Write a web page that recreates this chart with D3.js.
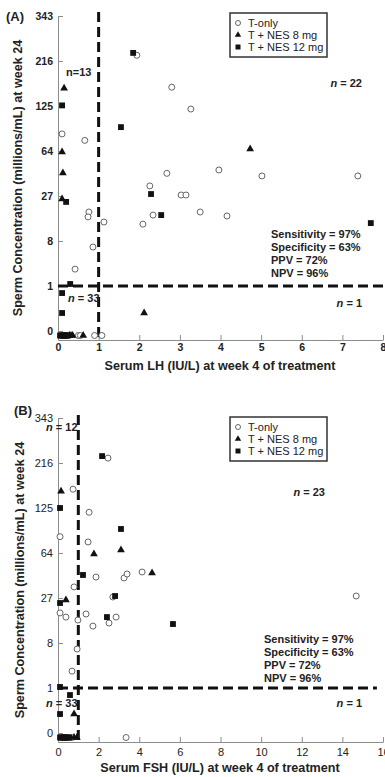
<!DOCTYPE html>
<html>
<head>
<meta charset="utf-8">
<script src="https://cdn.jsdelivr.net/npm/d3@7"></script>
<style>
  body { margin: 0; background: #fff; }
  svg { font-family: "Liberation Sans", Arial, sans-serif; }
  .axis path, .axis line { stroke: #8c8c8c; }
  .axis-title { font-weight: bold; font-size: 12.6px; fill: #222; }
  .note { font-weight: bold; font-size: 11px; fill: #222; }
</style>
</head>
<body>
<svg id="chart" width="385" height="777"></svg>
<script>
// below detection limit (plotted just under the 0 tick)
const ND = -0.001;

const yTicks = [0, 1, 8, 27, 64, 125, 216, 343];
const lhTicks = [0, 1, 2, 3, 4, 5, 6, 7, 8];
const fshTicks = [0, 2, 4, 6, 8, 10, 12, 14, 16];
const groups = ['T-only', 'T + NES 8 mg', 'T + NES 12 mg'];
const stats = ['Sensitivity = 97%', 'Specificity = 63%', 'PPV = 72%', 'NPV = 96%'];

// Panel A: serum LH (IU/L) vs sperm concentration (millions/mL)
const lhTonly = [
  [1.94, 230], [2.8, 159], [3.27, 120], [0.1, 84], [0.66, 76], [2.68, 43],
  [2.26, 33.5], [3.03, 27.6], [3.15, 27.6], [0.76, 18.5], [0.74, 16.3],
  [2.34, 17.1], [3.5, 18.5], [1.13, 14.2], [2.09, 13.4], [0.86, 6.5],
  [0.42, 2.6], [3.96, 45.8], [5.02, 40.9], [7.38, 40.9], [4.16, 16.7],
  [0.5, ND], [0.55, ND], [0.9, ND], [1.08, ND]
];
const lh8 = [
  [0.15, 157], [0.1, 62.9], [0.12, 43.3], [0.1, 25.2], [4.73, 66.2], [2.12, 0.064],
  [0.28, ND], [0.32, ND], [0.36, ND], [0.62, ND]
];
const lh12 = [
  [1.85, 236], [0.1, 126], [1.55, 93], [2.29, 28.2], [0.2, 23.6], [2.54, 17.1],
  [0.3, 1.14], [0.1, 0.6], [0.1, 0.064], [7.7, 13.8],
  [0.05, ND], [0.08, ND], [0.1, ND], [0.12, ND], [0.14, ND], [0.16, ND],
  [0.18, ND], [0.2, ND], [0.22, ND], [0.25, ND]
];

// Panel B: serum FSH (IU/L) vs sperm concentration (millions/mL)
const fshTonly = [
  [2.46, 228], [0.74, 159], [1.53, 118], [0.1, 83], [1.48, 76.5], [1.87, 41.6],
  [3.25, 40.9], [3.4, 44.1], [4.14, 45.8], [0.79, 34.2], [2.7, 27.6], [0.1, 19],
  [0.39, 17.1], [1.38, 18.5], [0.98, 15.8], [2.86, 17.1], [2.51, 14.6],
  [1.72, 13.4], [0.94, 6.5], [0.69, 2.6], [14.68, 28.2], [3.35, ND], [0.7, ND]
];
const fsh8 = [
  [0.15, 155], [1.77, 62.9], [3.1, 67.2], [4.63, 44.9], [0.39, 25.8], [0.79, 0.075],
  [0.79, ND], [0.93, ND]
];
const fsh12 = [
  [2.17, 233], [0.1, 125], [3.1, 93.2], [1.23, 43.3], [2.81, 28.2], [0.1, 24.1],
  [2.41, 17.1], [5.66, 14.2], [0.1, 1.07], [0.59, 0.6], [0.1, 0.075],
  [0.1, ND], [0.15, ND], [0.2, ND], [0.25, ND], [0.3, ND], [0.35, ND],
  [0.4, ND], [0.45, ND], [0.5, ND], [0.55, ND]
];

const svg = d3.select('#chart');

function drawPanel(cfg) {
  const x = d3.scaleLinear().domain(cfg.xDomain).range([58, 383]);
  const y = d3.scalePow().exponent(1 / 3).domain([-0.008, 343]).range([cfg.bottom, cfg.bottom - 324]);
  const g = svg.append('g');

  const xAxis = d3.axisBottom(x).tickValues(cfg.xTicks).tickSize(-5).tickSizeOuter(0).tickPadding(cfg.xPad);
  const yAxis = d3.axisLeft(y).tickValues(yTicks).tickSize(-5).tickSizeOuter(0).tickPadding(5);

  const xg = g.append('g').attr('class', 'axis')
      .attr('transform', `translate(0,${cfg.bottom})`).call(xAxis);
  const yg = g.append('g').attr('class', 'axis')
      .attr('transform', 'translate(58,0)').call(yAxis);
  [xg, yg].forEach(a => a.selectAll('text')
      .style('font-size', cfg.tickSize)
      .style('font-weight', cfg.tickWeight)
      .attr('fill', '#222'));

  // cut-off lines at 1 IU/L and 1 million/mL
  g.append('line')
      .attr('x1', x(1)).attr('x2', x(1))
      .attr('y1', y(cfg.vTop)).attr('y2', cfg.bottom)
      .attr('stroke', '#111').attr('stroke-width', 3).attr('stroke-dasharray', '10,5');
  g.append('line')
      .attr('x1', x(0)).attr('x2', x(cfg.hEnd))
      .attr('y1', y(1)).attr('y2', y(1))
      .attr('stroke', '#111').attr('stroke-width', 3).attr('stroke-dasharray', '10,5');

  // points
  g.selectAll('.tonly').data(cfg.tonly).join('circle')
      .attr('class', 'tonly')
      .attr('cx', d => x(d[0])).attr('cy', d => y(d[1])).attr('r', 3)
      .attr('fill', '#fff').attr('stroke', '#666').attr('stroke-width', 1);
  g.selectAll('.nes8').data(cfg.nes8).join('path')
      .attr('class', 'nes8')
      .attr('d', d3.symbol(d3.symbolTriangle, 26))
      .attr('transform', d => `translate(${x(d[0])},${y(d[1])})`)
      .attr('fill', '#111');
  g.selectAll('.nes12').data(cfg.nes12).join('path')
      .attr('class', 'nes12')
      .attr('d', d3.symbol(d3.symbolSquare, 34))
      .attr('transform', d => `translate(${x(d[0])},${y(d[1])})`)
      .attr('fill', '#111');

  // titles
  g.append('text').attr('class', 'axis-title')
      .attr('x', 220).attr('y', cfg.bottom + 30)
      .attr('text-anchor', 'middle').text(cfg.xTitle);
  g.append('text').attr('class', 'axis-title')
      .attr('transform', `translate(${cfg.yTitleX},${cfg.bottom - 162}) rotate(-90)`)
      .attr('text-anchor', 'middle').text('Sperm Concentration (millions/mL) at week 24');
  g.append('text')
      .attr('x', cfg.labelPos[0]).attr('y', cfg.labelPos[1])
      .style('font-weight', 'bold').style('font-size', '13px').attr('fill', '#222')
      .text(cfg.label);

  // legend
  const lg = g.append('g').attr('transform', `translate(230,${cfg.legendTop})`);
  lg.append('rect').attr('width', 97).attr('height', 44)
      .attr('fill', '#fff').attr('stroke', '#333').attr('stroke-width', 1.5);
  groups.forEach((name, i) => {
    const row = lg.append('g').attr('transform', `translate(8,${10 + i * 12})`);
    if (i === 0) row.append('circle').attr('r', 2.5).attr('fill', '#fff').attr('stroke', '#666');
    else row.append('path')
        .attr('d', d3.symbol(i === 1 ? d3.symbolTriangle : d3.symbolSquare, i === 1 ? 18 : 25))
        .attr('fill', '#111');
    row.append('text').attr('x', 10).attr('dy', '0.35em')
        .style('font-size', '11px').attr('fill', '#222').text(name);
  });

  // counts per quadrant
  cfg.counts.forEach(c => {
    const t = g.append('text').attr('class', 'note')
        .attr('x', c.x).attr('y', c.y).attr('text-anchor', c.anchor || 'start');
    if (c.plain) { t.text(c.text); return; }
    t.append('tspan').style('font-style', 'italic').text('n');
    t.append('tspan').text(' = ' + c.text);
  });

  stats.forEach((s, i) => {
    g.append('text').attr('class', 'note')
        .attr('x', cfg.statsX).attr('y', cfg.statsY + i * 13).text(s);
  });
}

drawPanel({
  bottom: 340, xDomain: [0, 8], xTicks: lhTicks, xPad: 4,
  tickSize: '10.5px', tickWeight: 'bold',
  vTop: 356, hEnd: 8,
  tonly: lhTonly, nes8: lh8, nes12: lh12,
  xTitle: 'Serum LH (IU/L) at week 4 of treatment', yTitleX: 22,
  label: '(A)', labelPos: [6, 21], legendTop: 13,
  counts: [
    {x: 66, y: 76, text: 'n=13', plain: true},
    {x: 362, y: 87, text: '22', anchor: 'end'},
    {x: 68, y: 302, text: '33'},
    {x: 362, y: 307, text: '1', anchor: 'end'}
  ],
  statsX: 271, statsY: 238
});

drawPanel({
  bottom: 742, xDomain: [0, 16], xTicks: fshTicks, xPad: 6,
  tickSize: '11px', tickWeight: 'normal',
  vTop: 353, hEnd: 15.7,
  tonly: fshTonly, nes8: fsh8, nes12: fsh12,
  xTitle: 'Serum FSH (IU/L) at week 4 of treatment', yTitleX: 24,
  label: '(B)', labelPos: [14, 415], legendTop: 417,
  counts: [
    {x: 46, y: 431, text: '12'},
    {x: 325, y: 496, text: '23', anchor: 'end'},
    {x: 46, y: 707, text: '33'},
    {x: 362, y: 707, text: '1', anchor: 'end'}
  ],
  statsX: 264, statsY: 643
});
</script>
</body>
</html>
